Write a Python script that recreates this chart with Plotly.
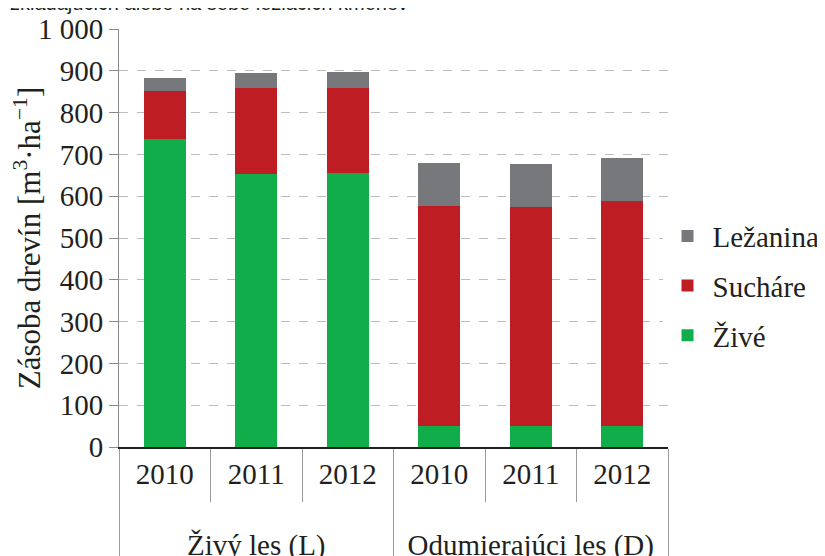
import plotly.graph_objects as go

# Data
stands = ["<br>Živý les (L)"] * 3 + ["<br>Odumierajúci les (D)"] * 3
years = ["2010", "2011", "2012", "2010", "2011", "2012"]
zive = [737, 653, 655, 50, 50, 50]
suchare = [115, 206, 204, 527, 524, 539]
lezanina = [31, 36, 38, 103, 103, 103]

series = [
    ("Živé", zive, "#12ad4b", 3),
    ("Sucháre", suchare, "#be1e23", 2),
    ("Ležanina", lezanina, "#77787b", 1),
]

font = "Times New Roman"

fig = go.Figure()
for name, vals, color, rank in series:
    fig.add_trace(go.Bar(
        x=[stands, years],
        y=vals,
        name=name,
        legendgroup=name,
        legendrank=rank,
        marker=dict(color=color, line=dict(width=0)),
        width=0.46,
    ))

# page body has an 8px margin; figure is made a bit wider than the window so the
# legend fits without pushing the right margin (the overflow is simply cut off)
fig.update_layout(
    barmode="stack",
    width=840,
    height=548,
    margin=dict(l=111, r=180, t=21, b=109),
    paper_bgcolor="white",
    plot_bgcolor="white",
    font=dict(family=font, size=29, color="#231f20"),
    separators=", ",
    showlegend=True,
    legend=dict(
        x=0.99, y=0.385, xanchor="left", yanchor="middle",
        traceorder="grouped",
        tracegroupgap=9,
        font=dict(family=font, size=29),
        itemwidth=40,
    ),
)

fig.update_yaxes(
    range=[0, 1000],
    dtick=100,
    tickformat=",d",
    tickfont=dict(family=font, size=29),
    showgrid=True,
    gridcolor="#bdbdbd",
    griddash="dash",
    gridwidth=1,
    showline=True,
    linecolor="#8a8a8a",
    ticks="outside",
    ticklen=9,
    tickcolor="#8a8a8a",
    zeroline=False,
    automargin=False,
    title=dict(text="Zásoba drevín [m<sup>3</sup>·ha<sup>−1</sup>]",
               font=dict(family=font, size=31), standoff=2),
)

fig.update_xaxes(
    tickfont=dict(family=font, size=29),
    showline=True,
    linecolor="#231f20",
    linewidth=1.5,
    ticks="outside",
    ticklen=53,
    tickcolor="#9a9a9a",
    showdividers=True,
    dividercolor="#9a9a9a",
    dividerwidth=1,
    automargin=False,
)

# cut-off caption line from the page above the chart
fig.add_annotation(
    text="zkladajúcich alebo na sebe ležiacich kmeňov",
    xref="paper", yref="paper", x=-0.202, y=1.032,
    xanchor="left", yanchor="bottom",
    showarrow=False,
    font=dict(family="Liberation Sans", size=20, color="#231f20"),
)

fig.write_html("out.html")
